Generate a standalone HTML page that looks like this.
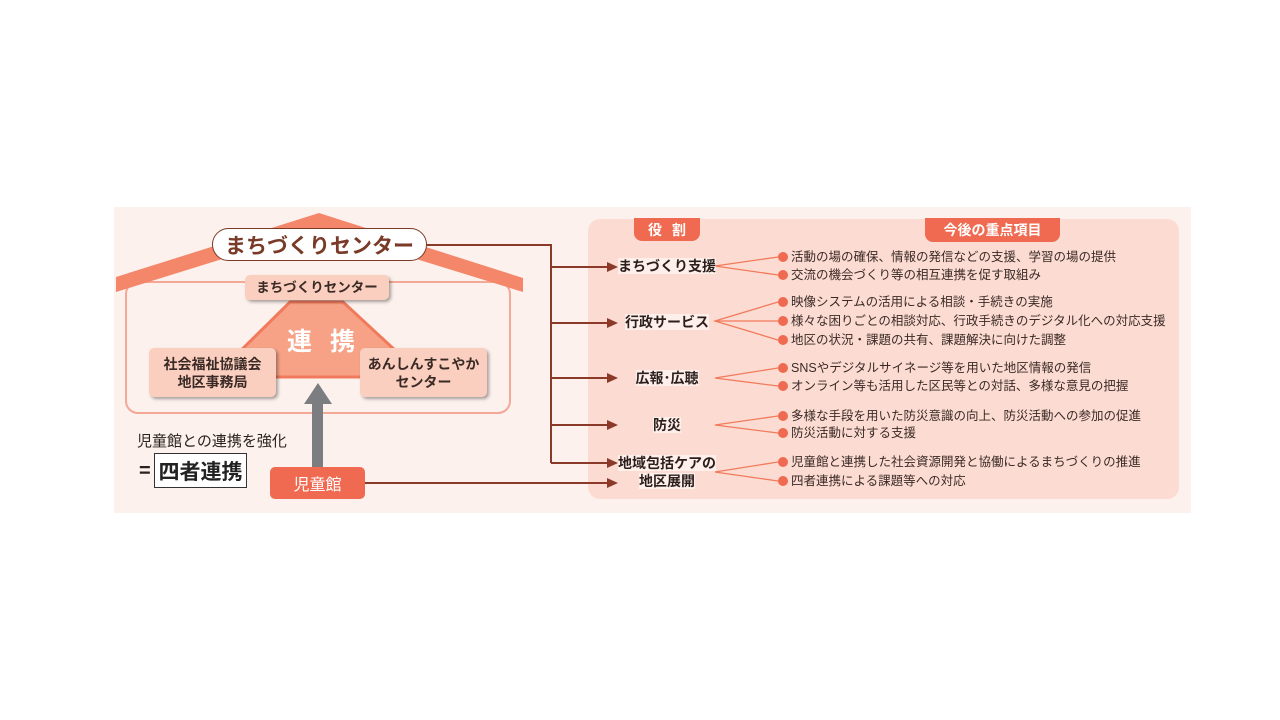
<!DOCTYPE html>
<html><head><meta charset="utf-8">
<style>
*{margin:0;padding:0;box-sizing:border-box}
body{width:1280px;height:720px;background:#fff;position:relative;overflow:hidden;font-family:"Liberation Sans","Noto Sans CJK JP",sans-serif;color:#2a2220}
.a{position:absolute}
.c{display:flex;align-items:center;justify-content:center;text-align:center;white-space:nowrap}
.bx{background:#fbcfbf;border-radius:5px;box-shadow:2px 2px 3px rgba(0,0,0,0.35);font-weight:bold;font-size:14px;line-height:18px;color:#3a2a26}
.role{font-weight:bold;font-size:14px;color:#2a1f1c;text-align:center;width:100px;left:617px;line-height:18px}
.role span{background:rgba(255,255,255,0.55)}
.b{position:absolute;left:778px;font-size:12.5px;line-height:16px;white-space:nowrap;color:#3a2a26}
.b i{display:inline-block;width:10px;height:10px;border-radius:50%;background:#ef6a50;margin-right:3px;vertical-align:-1px}
</style></head><body>
<div class="a" style="left:114px;top:207px;width:1077px;height:306px;background:#fdf1ed"></div>
<div class="a" style="left:588px;top:219px;width:591px;height:280px;background:#fcdcd2;border-radius:12px"></div>
<svg class="a" style="left:0;top:0" width="1280" height="720">
<rect x="126" y="282" width="384" height="131" rx="12" fill="none" stroke="#f4a896" stroke-width="2"/>
<polygon points="116,277 319,213 523,278 523,292 319,229 116,292" fill="#f4876a"/>
<polygon points="290,302 343,302 424,377 214,377" fill="#f7a287" stroke="#f27a5c" stroke-width="3"/>
<g stroke="#8b3a2a" stroke-width="2" fill="none">
<polyline points="427,245 551,245 551,463"/>
<line x1="551" y1="267" x2="610" y2="267"/><line x1="551" y1="323" x2="610" y2="323"/>
<line x1="551" y1="378" x2="610" y2="378"/><line x1="551" y1="425" x2="610" y2="425"/>
<line x1="551" y1="463" x2="610" y2="463"/><line x1="365" y1="483" x2="610" y2="483"/>
</g>
<g fill="#8b3a2a">
<polygon points="618,267 607,262 607,272"/><polygon points="618,323 607,318 607,328"/>
<polygon points="618,378 607,373 607,383"/><polygon points="618,425 607,420 607,430"/>
<polygon points="618,463 607,458 607,468"/><polygon points="618,483 607,478 607,488"/>
</g>
<g stroke="#f27a5c" stroke-width="1.3" fill="none">
<polyline points="778,257 715,266 778,275"/>
<polyline points="778,302 715,321 778,340"/><line x1="715" y1="321" x2="778" y2="321"/>
<polyline points="778,368 715,378 778,386"/>
<polyline points="778,416 715,425 778,433"/>
<polyline points="778,462 715,472 778,481"/>
</g>
<rect x="312" y="403" width="11" height="65" fill="#7b7d80"/>
<polygon points="318,383 304,404 332,404" fill="#7b7d80"/>
</svg>
<div class="a c" style="left:212px;top:228px;width:215px;height:33px;background:#fff;border:1.5px solid #7a3a28;border-radius:17px;font-weight:bold;font-size:21px;color:#7a3a28">まちづくりセンター</div>
<div class="a c bx" style="left:245px;top:275px;width:144px;height:25px;font-size:13.5px">まちづくりセンター</div>
<div class="a" style="left:287px;top:322px;font-size:25px;font-weight:bold;color:#fff;letter-spacing:18px">連携</div>
<div class="a c bx" style="left:149px;top:348px;width:127px;height:49px">社会福祉協議会<br>地区事務局</div>
<div class="a c bx" style="left:360px;top:348px;width:127px;height:49px">あんしんすこやか<br>センター</div>
<div class="a" style="left:137px;top:430px;font-size:15px;color:#2a2220">児童館との連携を強化</div>
<div class="a" style="left:139px;top:460px;font-size:20px;font-weight:bold">=</div>
<div class="a c" style="left:154px;top:453px;width:93px;height:35px;background:#fff;border:1.5px solid #333;font-size:21px;font-weight:bold;color:#222">四者連携</div>
<div class="a c" style="left:270px;top:467px;width:95px;height:32px;background:#ef6a50;border-radius:5px;color:#fff;font-size:16px">児童館</div>
<div class="a c" style="left:634px;top:218px;width:66px;height:23px;background:#ef6a50;border-radius:0 0 8px 8px;color:#fff;font-weight:bold;font-size:14px;letter-spacing:10px;padding-left:10px">役割</div>
<div class="a c" style="left:925px;top:218px;width:135px;height:24px;background:#ef6a50;border-radius:0 0 8px 8px;color:#fff;font-weight:bold;font-size:14px">今後の重点項目</div>
<div class="a role" style="top:257px"><span>まちづくり支援</span></div>
<div class="a role" style="top:313px"><span>行政サービス</span></div>
<div class="a role" style="top:369px"><span>広報･広聴</span></div>
<div class="a role" style="top:416px"><span>防災</span></div>
<div class="a role" style="top:454px"><span>地域包括ケアの</span><br><span>地区展開</span></div>
<div class="b" style="top:249px"><i></i>活動の場の確保、情報の発信などの支援、学習の場の提供</div>
<div class="b" style="top:267px"><i></i>交流の機会づくり等の相互連携を促す取組み</div>
<div class="b" style="top:294px"><i></i>映像システムの活用による相談・手続きの実施</div>
<div class="b" style="top:313px"><i></i>様々な困りごとの相談対応、行政手続きのデジタル化への対応支援</div>
<div class="b" style="top:332px"><i></i>地区の状況・課題の共有、課題解決に向けた調整</div>
<div class="b" style="top:360px"><i></i>SNSやデジタルサイネージ等を用いた地区情報の発信</div>
<div class="b" style="top:378px"><i></i>オンライン等も活用した区民等との対話、多様な意見の把握</div>
<div class="b" style="top:408px"><i></i>多様な手段を用いた防災意識の向上、防災活動への参加の促進</div>
<div class="b" style="top:425px"><i></i>防災活動に対する支援</div>
<div class="b" style="top:454px"><i></i>児童館と連携した社会資源開発と協働によるまちづくりの推進</div>
<div class="b" style="top:473px"><i></i>四者連携による課題等への対応</div>
</body></html>
